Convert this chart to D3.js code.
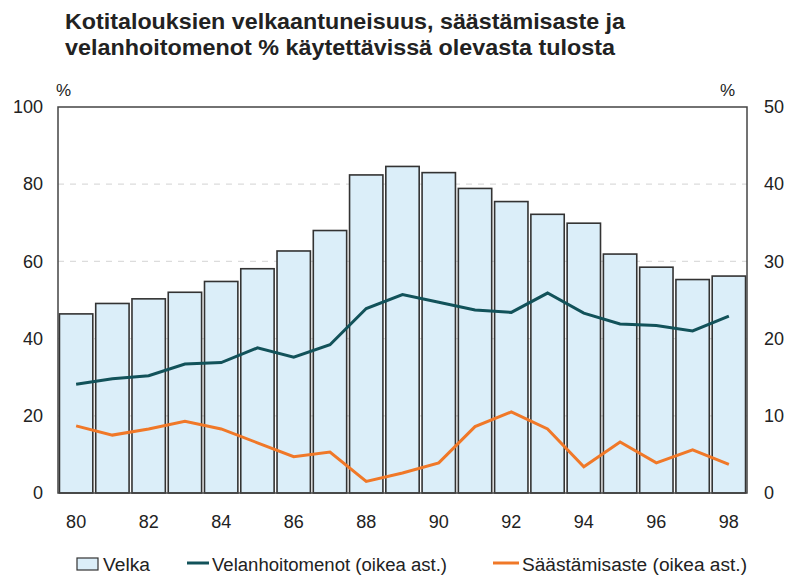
<!DOCTYPE html>
<html>
<head>
<meta charset="utf-8">
<script src="https://cdn.jsdelivr.net/npm/d3@7"></script>
<style>
  body { margin: 0; background: #fff; }
  text { font-family: "Liberation Sans", Arial, sans-serif; fill: #222; }
</style>
</head>
<body>
<div id="chart"></div>
<script>
// data
const years = ['80','81','82','83','84','85','86','87','88','89','90','91','92','93','94','95','96','97','98'];
const velka = [46.4, 49.1, 50.3, 52.0, 54.8, 58.1, 62.7, 68.0, 82.4, 84.6, 83.0, 78.9, 75.5, 72.2, 69.9, 61.9, 58.5, 55.3, 56.2];
const velanhoito = [14.1, 14.8, 15.2, 16.7, 16.9, 18.8, 17.6, 19.2, 23.9, 25.7, 24.7, 23.7, 23.4, 25.9, 23.3, 21.9, 21.7, 21.0, 22.9];
const saastaminen = [8.7, 7.5, 8.3, 9.3, 8.3, 6.5, 4.7, 5.3, 1.5, 2.6, 3.9, 8.6, 10.5, 8.3, 3.4, 6.6, 3.9, 5.6, 3.7];
const leftTicks = [0, 20, 40, 60, 80, 100];
const rightTicks = [0, 10, 20, 30, 40, 50];
const xLabels = ['80', '82', '84', '86', '88', '90', '92', '94', '96', '98'];

const width = 787, height = 578;
const margin = { left: 58, right: 40, top: 107, bottom: 85 };
const fontFamily = '"Liberation Sans", Arial, sans-serif';

const svg = d3.select('#chart').append('svg')
  .attr('width', width)
  .attr('height', height);

// title
svg.append('text')
  .attr('x', 65).attr('y', 29)
  .attr('textLength', 560).attr('lengthAdjust', 'spacingAndGlyphs')
  .style('font-size', '22px').style('font-weight', 'bold')
  .text('Kotitalouksien velkaantuneisuus, säästämisaste ja');
svg.append('text')
  .attr('x', 65).attr('y', 55)
  .attr('textLength', 550).attr('lengthAdjust', 'spacingAndGlyphs')
  .style('font-size', '22px').style('font-weight', 'bold')
  .text('velanhoitomenot % käytettävissä olevasta tulosta');

let x = d3.scaleBand()
  .domain(years)
  .range([margin.left, width - margin.right])
  .paddingInner(0.08)
  .paddingOuter(0.04);

let yLeft = d3.scaleLinear()
  .domain([0, 100])
  .range([height - margin.bottom, margin.top]);

let yRight = d3.scaleLinear()
  .domain([0, 50])
  .range([height - margin.bottom, margin.top]);

// faint grid
svg.append('g')
  .selectAll('line')
  .data(leftTicks.slice(1, -1))
  .enter().append('line')
  .attr('x1', margin.left).attr('x2', width - margin.right)
  .attr('y1', d => yLeft(d)).attr('y2', d => yLeft(d))
  .attr('stroke', '#dcdcdc')
  .attr('stroke-dasharray', '6,6')
  .attr('stroke-width', 1.2);

// bars
svg.append('g')
  .selectAll('rect')
  .data(velka)
  .enter().append('rect')
  .attr('x', (d, i) => x(years[i]))
  .attr('y', d => yLeft(d))
  .attr('width', x.bandwidth())
  .attr('height', d => yLeft(0) - yLeft(d))
  .attr('fill', '#dbeef9')
  .attr('stroke', '#333')
  .attr('stroke-width', 1.6);

// lines
let line = d3.line()
  .x((d, i) => x(years[i]) + x.bandwidth() / 2)
  .y(d => yRight(d));

svg.append('path')
  .datum(velanhoito)
  .attr('d', line)
  .attr('fill', 'none')
  .attr('stroke', '#12525a')
  .attr('stroke-width', 3);

svg.append('path')
  .datum(saastaminen)
  .attr('d', line)
  .attr('fill', 'none')
  .attr('stroke', '#f07828')
  .attr('stroke-width', 3);

// frame
svg.append('rect')
  .attr('x', margin.left).attr('y', margin.top)
  .attr('width', width - margin.left - margin.right)
  .attr('height', height - margin.top - margin.bottom)
  .attr('fill', 'none')
  .attr('stroke', '#444')
  .attr('stroke-width', 1.5);

// axes
let leftAxis = d3.axisLeft(yLeft).tickValues(leftTicks).tickSize(0).tickPadding(15);
let rightAxis = d3.axisRight(yRight).tickValues(rightTicks).tickSize(0).tickPadding(17);
let bottomAxis = d3.axisBottom(x).tickValues(xLabels).tickSize(0).tickPadding(22);

[svg.append('g').attr('transform', `translate(${margin.left},0)`).call(leftAxis),
 svg.append('g').attr('transform', `translate(${width - margin.right},0)`).call(rightAxis),
 svg.append('g').attr('transform', `translate(0,${height - margin.bottom})`).call(bottomAxis)]
  .forEach(g => {
    g.select('.domain').remove();
    g.selectAll('text').style('font-size', '18px').style('font-family', fontFamily).attr('fill', '#222');
  });

svg.append('text').attr('x', 56).attr('y', 96).style('font-size', '17px').text('%');
svg.append('text').attr('x', 720).attr('y', 96).style('font-size', '17px').text('%');

// legend
let legend = svg.append('g').style('font-size', '18px');
legend.append('rect')
  .attr('x', 77).attr('y', 558).attr('width', 21).attr('height', 12)
  .attr('fill', '#dbeef9').attr('stroke', '#333').attr('stroke-width', 1.2);
legend.append('text').attr('x', 103).attr('y', 571)
  .attr('textLength', 47).attr('lengthAdjust', 'spacingAndGlyphs').text('Velka');
legend.append('line')
  .attr('x1', 187).attr('x2', 209).attr('y1', 563).attr('y2', 563)
  .attr('stroke', '#12525a').attr('stroke-width', 3);
legend.append('text').attr('x', 212).attr('y', 571)
  .attr('textLength', 235).attr('lengthAdjust', 'spacingAndGlyphs').text('Velanhoitomenot (oikea ast.)');
legend.append('line')
  .attr('x1', 493).attr('x2', 519).attr('y1', 563).attr('y2', 563)
  .attr('stroke', '#f07828').attr('stroke-width', 3);
legend.append('text').attr('x', 522).attr('y', 571)
  .attr('textLength', 225).attr('lengthAdjust', 'spacingAndGlyphs').text('Säästämisaste (oikea ast.)');
</script>
</body>
</html>
